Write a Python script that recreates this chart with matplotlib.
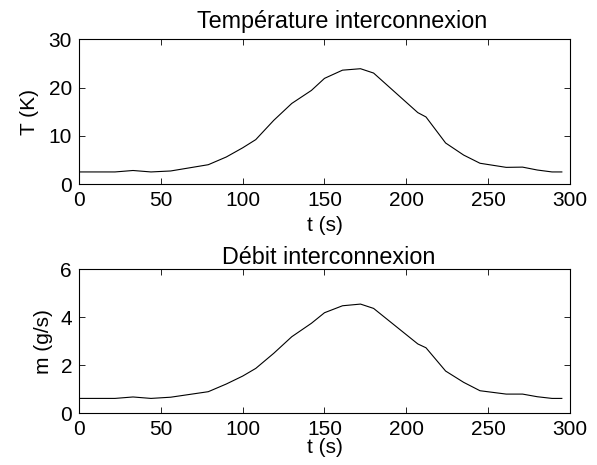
import matplotlib
matplotlib.use('Agg')
import matplotlib.pyplot as plt

# --- Data ---
t_s = [0, 22, 33, 44, 56, 79, 90, 100, 108, 119, 130, 142, 150, 161, 172,
       180, 207, 212, 224, 235, 245, 261, 271, 280, 289, 295]
temp_K = [2.5, 2.5, 2.8, 2.5, 2.7, 4.0, 5.6, 7.5, 9.2, 13.2, 16.7, 19.4, 21.9,
          23.6, 23.9, 23.0, 14.8, 13.9, 8.5, 6.0, 4.3, 3.45, 3.5, 2.9, 2.5, 2.5]
flow_gs = [0.62, 0.62, 0.68, 0.62, 0.67, 0.9, 1.22, 1.55, 1.87, 2.5, 3.19,
           3.75, 4.19, 4.48, 4.55, 4.37, 2.89, 2.73, 1.76, 1.29, 0.94, 0.8,
           0.8, 0.69, 0.62, 0.62]
x_ticks = [0, 50, 100, 150, 200, 250, 300]
temp_ticks = [0, 10, 20, 30]
flow_ticks = [0, 2, 4, 6]

plt.rcParams['font.family'] = ['Liberation Sans', 'DejaVu Sans']
FS = 15

fig = plt.figure(figsize=(5.97, 4.65), dpi=100)
ax1 = fig.add_axes([0.1323, 0.6043, 0.8225, 0.3112])
ax2 = fig.add_axes([0.1323, 0.1112, 0.8225, 0.3097])


def style(ax, yticks, ylabel, ylabel_pad, title, title_x, title_pad, xlabel_pad):
    ax.set_xlim(0, 300)
    ax.set_ylim(yticks[0], yticks[-1])
    ax.set_xticks(x_ticks)
    ax.set_yticks(yticks)
    ax.tick_params(direction='in', length=4, width=0.6, top=True, right=True,
                   labelsize=FS, pad=5)
    for sp in ax.spines.values():
        sp.set_linewidth(0.8)
    ax.set_xlabel('t (s)', fontsize=FS, labelpad=xlabel_pad)
    ax.set_ylabel(ylabel, fontsize=FS, labelpad=ylabel_pad)
    ax.set_title(title, fontsize=16.8, x=title_x, pad=title_pad)


ax1.plot(t_s, temp_K, color='black', linewidth=0.8)
style(ax1, temp_ticks, 'T (K)', 7, 'Température interconnexion', 0.535, 8, 4)

ax2.plot(t_s, flow_gs, color='black', linewidth=0.8)
style(ax2, flow_ticks, 'm (g/s)', 5, 'Débit interconnexion', 0.508, 4, -1)

fig.savefig('out.png', dpi=100)
